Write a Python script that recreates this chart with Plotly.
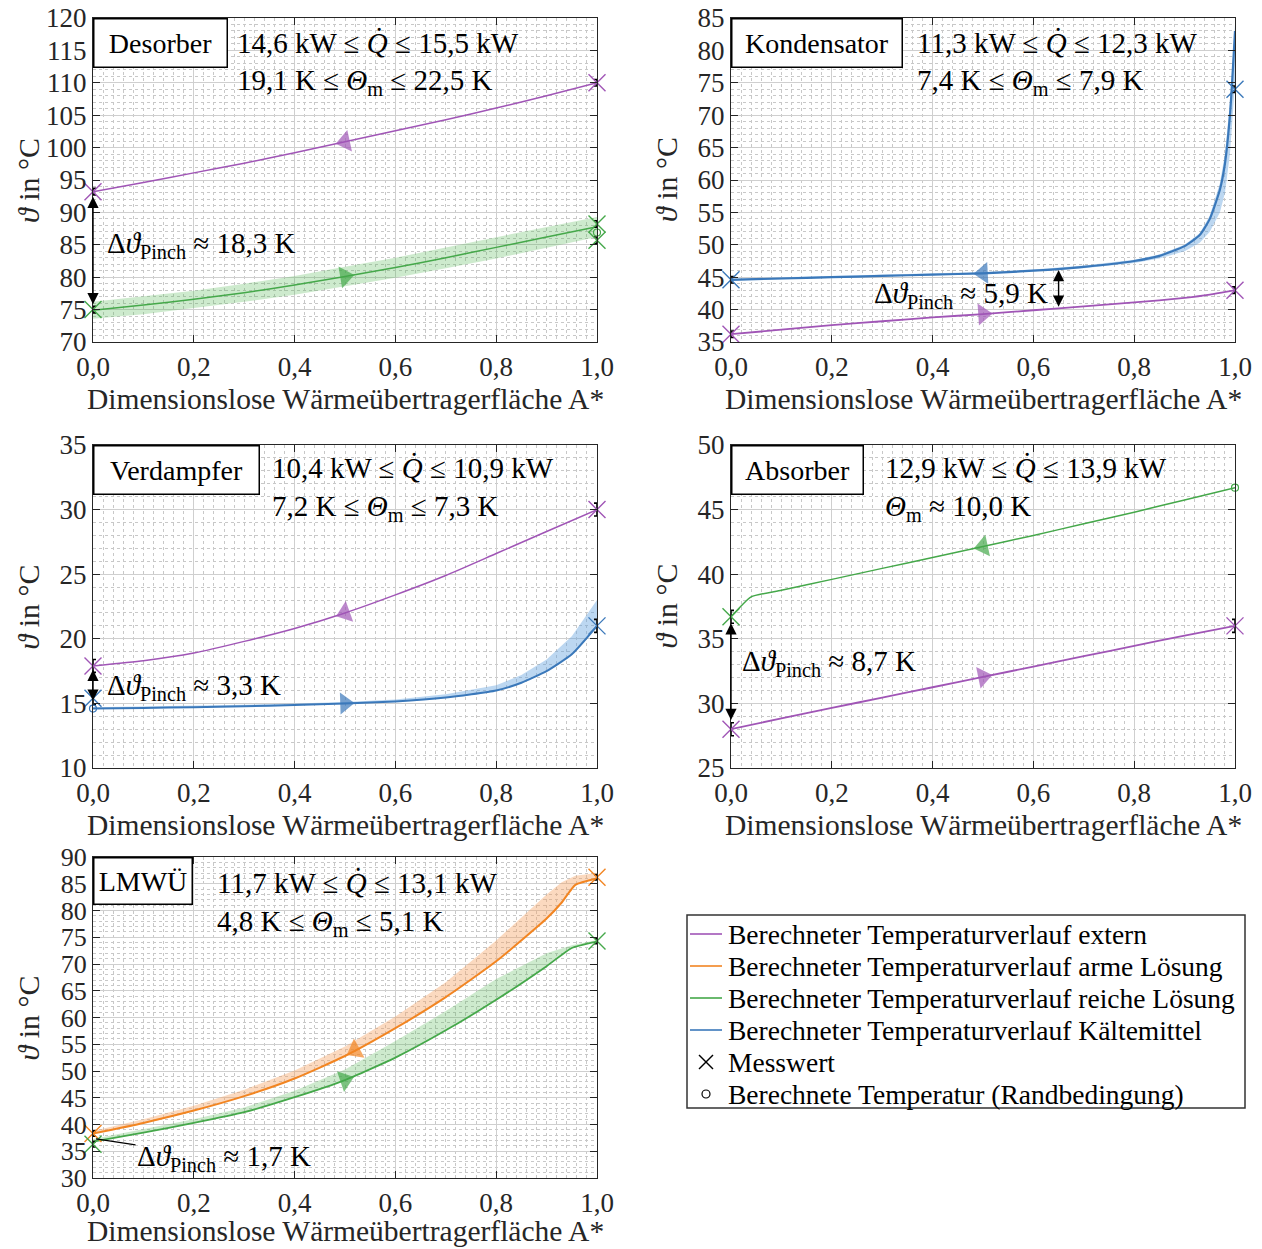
import numpy as np
import plotly.graph_objects as go

# The page body has an 8 px default margin; positions below are measured in the
# 1262x1249 screenshot and converted into figure coordinates.
OFF = 8
SW, SH = 1262, 1249
W, H = SW - OFF, SH - OFF
FONT = "Liberation Serif"
AX = "#262626"

C_EXT = "#A055B6"
C_POOR = "#F28522"
C_RICH = "#45A84A"
C_REF = "#3A78BA"
F_POOR = "rgba(246,160,95,0.40)"
F_RICH = "rgba(90,185,90,0.30)"
F_REF = "rgba(95,160,222,0.42)"

# ---------------- data ----------------
# Desorber
des_x = [0.0, 0.1, 0.2, 0.3, 0.4, 0.5, 0.6, 0.7, 0.8, 0.9, 1.0]
des_ext = [93.2, 94.6, 96.1, 97.6, 99.2, 100.9, 102.6, 104.3, 106.1, 108.0, 110.0]
des_rich = [74.9, 75.7, 76.6, 77.6, 78.8, 80.1, 81.5, 83.0, 84.6, 86.2, 87.8]
des_rich_lo = [73.6, 74.3, 75.2, 76.2, 77.3, 78.6, 79.9, 81.4, 82.9, 84.5, 86.2]
des_rich_hi = [76.2, 77.0, 77.9, 79.0, 80.2, 81.6, 83.0, 84.6, 86.2, 87.8, 89.3]
des_meas_ext_x, des_meas_ext_y = [0.0, 1.0], [93.2, 110.0]
des_meas_rich_x, des_meas_rich_y = [0.0, 1.0, 1.0], [75.0, 88.2, 85.7]
des_calc_rich_x, des_calc_rich_y = [1.0], [86.9]

# Kondensator
kon_ref_x = [0.0, 0.1, 0.2, 0.3, 0.4, 0.5, 0.6, 0.7, 0.8, 0.85, 0.9, 0.93, 0.95, 0.97, 0.98, 0.99, 0.995, 1.0]
kon_ref = [44.6, 44.8, 45.0, 45.2, 45.4, 45.6, 46.0, 46.6, 47.5, 48.3, 49.8, 51.5, 54.0, 58.5, 62.5, 70.0, 76.0, 83.0]
kon_ref_lo = [44.5, 44.7, 44.9, 45.1, 45.3, 45.5, 45.9, 46.4, 47.2, 47.9, 49.0, 50.3, 52.0, 55.0, 58.0, 64.0, 69.0, 75.0]
kon_ref_hi = [44.8, 45.0, 45.2, 45.4, 45.6, 45.8, 46.2, 46.8, 47.7, 48.5, 50.0, 51.8, 54.5, 59.5, 64.0, 72.0, 78.0, 84.0]
kon_ext_x = [0.0, 0.1, 0.2, 0.3, 0.4, 0.5, 0.6, 0.7, 0.8, 0.9, 0.95, 1.0]
kon_ext = [36.2, 36.9, 37.6, 38.2, 38.8, 39.3, 39.9, 40.5, 41.1, 41.8, 42.3, 43.0]
kon_meas_ref_x, kon_meas_ref_y = [0.0, 1.0], [44.6, 74.0]
kon_meas_ext_x, kon_meas_ext_y = [0.0, 1.0], [36.2, 43.0]

# Verdampfer
ver_ext_x = [0.0, 0.1, 0.2, 0.3, 0.4, 0.5, 0.6, 0.7, 0.8, 0.9, 1.0]
ver_ext = [17.9, 18.3, 18.9, 19.8, 20.8, 22.0, 23.4, 24.9, 26.6, 28.3, 30.0]
ver_ref_x = [0.0, 0.1, 0.2, 0.3, 0.4, 0.5, 0.6, 0.7, 0.8, 0.85, 0.9, 0.95, 1.0]
ver_ref = [14.6, 14.65, 14.7, 14.78, 14.87, 15.0, 15.15, 15.45, 16.0, 16.6, 17.5, 18.8, 21.0]
ver_ref_hi = [14.7, 14.75, 14.8, 14.9, 15.0, 15.1, 15.3, 15.7, 16.4, 17.2, 18.4, 20.2, 23.0]
ver_meas_ext_x, ver_meas_ext_y = [0.0, 1.0], [17.9, 30.0]
ver_meas_ref_x, ver_meas_ref_y = [0.0, 1.0], [15.4, 21.0]
ver_calc_ref_x, ver_calc_ref_y = [0.0], [14.6]

# Absorber
abs_rich_x = [0.0, 0.04, 0.1, 0.2, 0.3, 0.4, 0.5, 0.6, 0.7, 0.8, 0.9, 1.0]
abs_rich = [36.7, 38.25, 38.75, 39.6, 40.45, 41.3, 42.15, 43.0, 43.9, 44.8, 45.75, 46.7]
abs_ext_x = [0.0, 0.1, 0.2, 0.3, 0.4, 0.5, 0.6, 0.7, 0.8, 0.9, 1.0]
abs_ext = [28.0, 28.85, 29.65, 30.45, 31.25, 32.05, 32.85, 33.65, 34.45, 35.25, 36.0]
abs_meas_rich_x, abs_meas_rich_y = [0.0], [36.7]
abs_calc_rich_x, abs_calc_rich_y = [1.0], [46.7]
abs_meas_ext_x, abs_meas_ext_y = [0.0, 1.0], [28.0, 36.0]

# LMWUE
lm_poor_x = [0.0, 0.1, 0.2, 0.3, 0.4, 0.5, 0.6, 0.7, 0.8, 0.9, 0.93, 0.957, 1.0]
lm_poor = [38.3, 40.3, 42.6, 45.3, 48.6, 52.8, 58.0, 63.8, 70.5, 78.5, 81.5, 84.8, 86.0]
lm_poor_hi = [38.8, 41.0, 43.5, 46.5, 50.1, 54.6, 60.2, 66.6, 74.4, 83.0, 85.3, 86.5, 87.0]
lm_rich_x = [0.0, 0.1, 0.2, 0.3, 0.4, 0.5, 0.6, 0.7, 0.8, 0.9, 0.95, 1.0]
lm_rich = [36.8, 38.5, 40.3, 42.3, 45.1, 48.3, 52.5, 57.6, 63.3, 69.6, 73.0, 74.2]
lm_rich_hi = [37.3, 39.1, 41.0, 43.2, 46.3, 50.3, 55.6, 61.2, 67.2, 72.0, 73.5, 74.5]
lm_meas_poor_x, lm_meas_poor_y = [0.0, 1.0], [38.3, 86.2]
lm_meas_rich_x, lm_meas_rich_y = [0.0, 1.0], [36.3, 74.3]

meas_err = 0.5  # K, measurement uncertainty (black error bars)

x_ticks = [0.0, 0.2, 0.4, 0.6, 0.8, 1.0]
y_ranges = {1: [70, 120], 2: [35, 85], 3: [10, 35], 4: [25, 50], 5: [30, 90]}
panel_names = {1: "Desorber", 2: "Kondensator", 3: "Verdampfer", 4: "Absorber", 5: "LMWÜ"}
q_texts = {1: "14,6 kW ≤ <i>Q̇</i> ≤ 15,5 kW", 2: "11,3 kW ≤ <i>Q̇</i> ≤ 12,3 kW",
           3: "10,4 kW ≤ <i>Q̇</i> ≤ 10,9 kW", 4: "12,9 kW ≤ <i>Q̇</i> ≤ 13,9 kW",
           5: "11,7 kW ≤ <i>Q̇</i> ≤ 13,1 kW"}
th_texts = {1: "19,1 K ≤ <i>Θ</i><sub>m</sub> ≤ 22,5 K", 2: "7,4 K ≤ <i>Θ</i><sub>m</sub> ≤ 7,9 K",
            3: "7,2 K ≤ <i>Θ</i><sub>m</sub> ≤ 7,3 K", 4: "<i>Θ</i><sub>m</sub> ≈ 10,0 K",
            5: "4,8 K ≤ <i>Θ</i><sub>m</sub> ≤ 5,1 K"}
pinch_texts = {1: "18,3", 2: "5,9", 3: "3,3", 4: "8,7", 5: "1,7"}

legend_items = ["Berechneter Temperaturverlauf extern",
                "Berechneter Temperaturverlauf arme Lösung",
                "Berechneter Temperaturverlauf reiche Lösung",
                "Berechneter Temperaturverlauf Kältemittel",
                "Messwert",
                "Berechnete Temperatur (Randbedingung)"]
legend_colors = [C_EXT, C_POOR, C_RICH, C_REF]

# ---------------- layout geometry (screenshot pixels) ----------------
boxes = {1: (93, 597, 18, 342), 2: (731, 1235, 18, 342), 3: (93, 597, 445, 768),
         4: (731, 1235, 445, 768), 5: (93, 597, 857, 1178)}
xlabel_gap = {1: 57, 2: 57, 3: 57, 4: 57, 5: 53}
ytick_size = {1: 27, 2: 27, 3: 27, 4: 27, 5: 26}


def pp(x, y):
    return (x - OFF) / W, 1 - (y - OFF) / H


fig = go.Figure()


def refs(p):
    return ("x" if p == 1 else f"x{p}"), ("y" if p == 1 else f"y{p}")


def add_line(p, x, y, color, width):
    xr, yr = refs(p)
    fig.add_trace(go.Scatter(x=x, y=y, mode="lines",
                             line=dict(color=color, width=width, shape="spline", smoothing=0.5),
                             xaxis=xr, yaxis=yr, showlegend=False, hoverinfo="skip"))


def add_band(p, x, lo, hi, fill):
    xr, yr = refs(p)
    fig.add_trace(go.Scatter(x=list(x) + list(x)[::-1], y=list(hi) + list(lo)[::-1],
                             mode="lines", fill="toself", fillcolor=fill, line=dict(width=0),
                             xaxis=xr, yaxis=yr, showlegend=False, hoverinfo="skip"))


def add_arrow(p, x, y, xs, color):
    xr, yr = refs(p)
    ys = list(np.interp(xs, x, y))
    fig.add_trace(go.Scatter(x=xs, y=ys, mode="markers",
                             marker=dict(symbol="triangle-up", size=[0, 19], color=color,
                                         angleref="previous", line=dict(width=0)),
                             xaxis=xr, yaxis=yr, showlegend=False, hoverinfo="skip", cliponaxis=False))


def add_meas(p, x, y, color):
    xr, yr = refs(p)
    fig.add_trace(go.Scatter(x=x, y=y, mode="markers",
                             marker=dict(symbol="x-thin", size=17, color=color,
                                         line=dict(color=color, width=1.4)),
                             error_y=dict(type="constant", value=meas_err, color="black",
                                          thickness=1.6, width=3),
                             xaxis=xr, yaxis=yr, showlegend=False, cliponaxis=False))


def add_calc(p, x, y, color):
    xr, yr = refs(p)
    fig.add_trace(go.Scatter(x=x, y=y, mode="markers",
                             marker=dict(symbol="circle-open", size=7, color=color,
                                         line=dict(color=color, width=1.2)),
                             xaxis=xr, yaxis=yr, showlegend=False, cliponaxis=False))


# P1 Desorber
add_band(1, des_x, des_rich_lo, des_rich_hi, F_RICH)
add_line(1, des_x, des_ext, C_EXT, 1.5)
add_line(1, des_x, des_rich, C_RICH, 1.5)
add_arrow(1, des_x, des_ext, [0.53, 0.50], C_EXT)
add_arrow(1, des_x, des_rich, [0.47, 0.50], C_RICH)
add_meas(1, des_meas_ext_x, des_meas_ext_y, C_EXT)
add_meas(1, des_meas_rich_x, des_meas_rich_y, C_RICH)
add_calc(1, des_calc_rich_x, des_calc_rich_y, C_RICH)

# P2 Kondensator
add_band(2, kon_ref_x, kon_ref_lo, kon_ref_hi, F_REF)
add_line(2, kon_ref_x, kon_ref, C_REF, 2.2)
add_line(2, kon_ext_x, kon_ext, C_EXT, 1.8)
add_arrow(2, kon_ref_x, kon_ref, [0.53, 0.50], C_REF)
add_arrow(2, kon_ext_x, kon_ext, [0.47, 0.50], C_EXT)
add_meas(2, kon_meas_ref_x, kon_meas_ref_y, C_REF)
add_meas(2, kon_meas_ext_x, kon_meas_ext_y, C_EXT)

# P3 Verdampfer
add_band(3, ver_ref_x, ver_ref, ver_ref_hi, F_REF)
add_line(3, ver_ext_x, ver_ext, C_EXT, 1.5)
add_line(3, ver_ref_x, ver_ref, C_REF, 2.0)
add_arrow(3, ver_ext_x, ver_ext, [0.53, 0.50], C_EXT)
add_arrow(3, ver_ref_x, ver_ref, [0.47, 0.50], C_REF)
add_meas(3, ver_meas_ext_x, ver_meas_ext_y, C_EXT)
add_meas(3, ver_meas_ref_x, ver_meas_ref_y, C_REF)
add_calc(3, ver_calc_ref_x, ver_calc_ref_y, C_REF)

# P4 Absorber
add_line(4, abs_rich_x, abs_rich, C_RICH, 1.5)
add_line(4, abs_ext_x, abs_ext, C_EXT, 1.8)
add_arrow(4, abs_rich_x, abs_rich, [0.53, 0.50], C_RICH)
add_arrow(4, abs_ext_x, abs_ext, [0.47, 0.50], C_EXT)
add_meas(4, abs_meas_rich_x, abs_meas_rich_y, C_RICH)
add_calc(4, abs_calc_rich_x, abs_calc_rich_y, C_RICH)
add_meas(4, abs_meas_ext_x, abs_meas_ext_y, C_EXT)

# P5 LMWUE
add_band(5, lm_poor_x, lm_poor, lm_poor_hi, F_POOR)
add_band(5, lm_rich_x, lm_rich, lm_rich_hi, F_RICH)
add_line(5, lm_poor_x, lm_poor, C_POOR, 2.0)
add_line(5, lm_rich_x, lm_rich, C_RICH, 1.8)
add_arrow(5, lm_poor_x, lm_poor, [0.55, 0.52], C_POOR)
add_arrow(5, lm_rich_x, lm_rich, [0.47, 0.50], C_RICH)
add_meas(5, lm_meas_poor_x, lm_meas_poor_y, C_POOR)
add_meas(5, lm_meas_rich_x, lm_meas_rich_y, C_RICH)

# ---------------- axes ----------------
for p, (l, r, t, b) in boxes.items():
    xa = "xaxis" if p == 1 else f"xaxis{p}"
    ya = "yaxis" if p == 1 else f"yaxis{p}"
    xr, yr = refs(p)
    x0, y_top = pp(l, t)
    x1, y_bot = pp(r, b)
    common = dict(showline=True, linecolor=AX, linewidth=1.3, mirror="ticks", ticks="inside",
                  ticklen=7, tickwidth=1.2, tickcolor=AX, showgrid=True, gridcolor="#cfcfcf",
                  gridwidth=1, zeroline=False, automargin=False, ticklabeloverflow="allow")
    fig.layout[xa] = dict(domain=[x0, x1], anchor=yr, range=[0, 1], tickvals=x_ticks,
                          tickformat=".1f", tickfont=dict(family=FONT, size=27, color=AX),
                          minor=dict(dtick=0.02, showgrid=True, gridcolor="#c8c8c8",
                                     griddash="dot", gridwidth=1),
                          **common)
    fig.layout[ya] = dict(domain=[y_bot, y_top], anchor=xr, range=y_ranges[p], dtick=5,
                          tickfont=dict(family=FONT, size=ytick_size[p], color=AX),
                          minor=dict(dtick=1, showgrid=True, gridcolor="#c8c8c8",
                                     griddash="dot", gridwidth=1),
                          **common)

# ---------------- annotations ----------------
ann = []
name_w = {1: 135, 2: 172, 3: 167, 4: 133, 5: 100}
name_h = {1: 50, 2: 50, 3: 50, 4: 50, 5: 48}
q_pos = {1: (235, 43, 85), 2: (915, 43, 85), 3: (270, 468, 511), 4: (883, 468, 511), 5: (215, 883, 926)}
for p, (l, r, t, b) in boxes.items():
    xr, yr = refs(p)
    pw, ph = r - l, b - t
    f = dict(family=FONT, size=28, color="black")
    ann.append(dict(xref=f"{xr} domain", yref=f"{yr} domain", x=0, y=1, xanchor="left", yanchor="top",
                    text=panel_names[p], showarrow=False, font=f, bgcolor="white",
                    bordercolor="black", borderwidth=1.5, borderpad=1,
                    width=name_w[p] - 5, height=name_h[p] - 5, align="center"))
    qx, qy1, qy2 = q_pos[p]
    f2 = dict(family=FONT, size=29, color="black")
    ann.append(dict(xref=f"{xr} domain", yref=f"{yr} domain", x=(qx - l) / pw, y=(b - qy1) / ph,
                    xanchor="left", yanchor="middle", text=q_texts[p], showarrow=False, font=f2))
    ann.append(dict(xref=f"{xr} domain", yref=f"{yr} domain", x=(qx - l) / pw, y=(b - qy2) / ph + 0.01,
                    xanchor="left", yanchor="middle", text=th_texts[p], showarrow=False, font=f2))
    # axis titles
    ann.append(dict(xref=f"{xr} domain", yref=f"{yr} domain", x=-65 / pw, y=0.5, textangle=-90,
                    xanchor="center", yanchor="middle", text="<i>ϑ</i> in °C", showarrow=False,
                    font=dict(family=FONT, size=30, color=AX)))
    ann.append(dict(xref=f"{xr} domain", yref=f"{yr} domain", x=0.5, y=-xlabel_gap[p] / ph,
                    xanchor="center", yanchor="middle", text="Dimensionslose Wärmeübertragerfläche A*",
                    showarrow=False, font=dict(family=FONT, size=29.5, color=AX)))


def pinch_label(p):
    return "Δ<i>ϑ</i><sub>Pinch</sub> ≈ " + pinch_texts[p] + " K"


ft = dict(family=FONT, size=29, color="black")
# double arrows for pinch
pinch_arrows = {1: (0.0, 75.6, 92.4), 2: (0.65, 40.2, 46.1), 3: (0.0, 15.1, 17.6), 4: (0.0, 28.6, 36.2)}
for p, (xa_, y0, y1) in pinch_arrows.items():
    xr, yr = refs(p)
    ann.append(dict(xref=xr, yref=yr, axref=xr, ayref=yr, x=xa_, y=y1, ax=xa_, ay=y0, text="",
                    showarrow=True, arrowhead=2, arrowside="end+start", arrowsize=1.6,
                    arrowwidth=1.4, arrowcolor="black", standoff=0, startstandoff=0))
pinch_pos = {1: (0.024, 0.30, "left"), 2: (0.632, 0.145, "right"), 3: (0.024, 0.25, "left"),
             4: (0.018, 0.325, "left")}
for p, (px_, py_, anc) in pinch_pos.items():
    xr, yr = refs(p)
    ann.append(dict(xref=f"{xr} domain", yref=f"{yr} domain", x=px_, y=py_, xanchor=anc,
                    yanchor="middle", text=pinch_label(p), showarrow=False, font=ft))
ann.append(dict(xref="x5", yref="y5", x=0.006, y=37.3, ax=128, ay=19, text=pinch_label(5),
                showarrow=True, arrowhead=0, arrowwidth=1.2, arrowcolor="black", font=ft,
                xanchor="center", yanchor="middle"))

# ---------------- manual legend ----------------
shapes = []
bx0, by0 = pp(687, 915)
bx1, by1 = pp(1245, 1108)
shapes.append(dict(type="rect", xref="paper", yref="paper", x0=bx0, y0=by1, x1=bx1, y1=by0,
                   line=dict(color="#333333", width=1.5), fillcolor="white", layer="below"))
rows = [934, 966, 998, 1030, 1062, 1094]
for i, txt in enumerate(legend_items):
    ry = rows[i]
    if i < 4:
        a, yy = pp(690, ry)
        c, _ = pp(722, ry)
        shapes.append(dict(type="line", xref="paper", yref="paper", x0=a, x1=c, y0=yy, y1=yy,
                           line=dict(color=legend_colors[i], width=1.6)))
    elif i == 4:
        for s in (-1, 1):
            a, y0 = pp(699, ry - 7 * s)
            c, y1 = pp(713, ry + 7 * s)
            shapes.append(dict(type="line", xref="paper", yref="paper", x0=a, x1=c, y0=y0, y1=y1,
                               line=dict(color="black", width=1.4)))
    else:
        a, y0 = pp(702, ry + 4)
        c, y1 = pp(710, ry - 4)
        shapes.append(dict(type="circle", xref="paper", yref="paper", x0=a, x1=c, y0=y0, y1=y1,
                           line=dict(color="black", width=1.2)))
    tx, ty = pp(726, ry)
    ann.append(dict(xref="paper", yref="paper", x=tx, y=ty, xanchor="left", yanchor="middle",
                    text=txt, showarrow=False, font=dict(family=FONT, size=27.5, color="black")))

fig.update_layout(width=W, height=H, margin=dict(l=0, r=0, t=0, b=0), autosize=False,
                  paper_bgcolor="white", plot_bgcolor="white", separators=",.",
                  showlegend=False, annotations=ann, shapes=shapes,
                  font=dict(family=FONT, size=28, color="black"))

fig.write_html("out.html")
